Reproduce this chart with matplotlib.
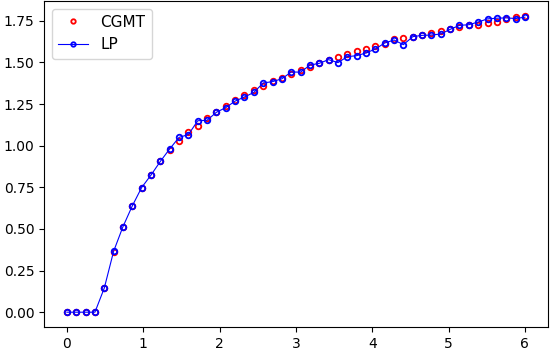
import numpy as np
import matplotlib
matplotlib.use("Agg")
import matplotlib.pyplot as plt

# 50 evenly spaced sample points on [0, 6]
x = np.linspace(0, 6, 50)

cgmt = [0.00, 0.00, 0.00, 0.00, 0.145, 0.360, 0.510, 0.640, 0.748, 0.826,
        0.906, 0.972, 1.027, 1.080, 1.121, 1.165, 1.201, 1.239, 1.272, 1.305,
        1.334, 1.360, 1.386, 1.408, 1.431, 1.455, 1.472, 1.495, 1.517, 1.531,
        1.549, 1.567, 1.583, 1.601, 1.613, 1.639, 1.645, 1.655, 1.667, 1.677,
        1.689, 1.699, 1.711, 1.727, 1.727, 1.737, 1.746, 1.762, 1.772, 1.780]

lp = [0.00, 0.00, 0.00, 0.00, 0.145, 0.366, 0.514, 0.639, 0.749, 0.824,
      0.906, 0.981, 1.050, 1.067, 1.150, 1.153, 1.201, 1.229, 1.268, 1.293,
      1.320, 1.377, 1.385, 1.402, 1.443, 1.442, 1.484, 1.495, 1.517, 1.499,
      1.535, 1.541, 1.557, 1.581, 1.617, 1.635, 1.607, 1.655, 1.663, 1.665,
      1.671, 1.699, 1.723, 1.727, 1.743, 1.762, 1.766, 1.768, 1.764, 1.772]

fig, ax = plt.subplots(figsize=(5.5, 3.52), dpi=100)
fig.subplots_adjust(left=0.08, right=0.996, top=0.997, bottom=0.071)

ax.plot(x, cgmt, "o", color="red", mfc="none", markersize=4, mew=1.3, label="CGMT")
ax.plot(x, lp, "-o", color="blue", mfc="none", markersize=4, mew=1.3,
        linewidth=0.8, label="LP")
ax.legend(loc="upper left", fontsize=11, markerscale=0.8)

fig.savefig("out.png", dpi=100)
